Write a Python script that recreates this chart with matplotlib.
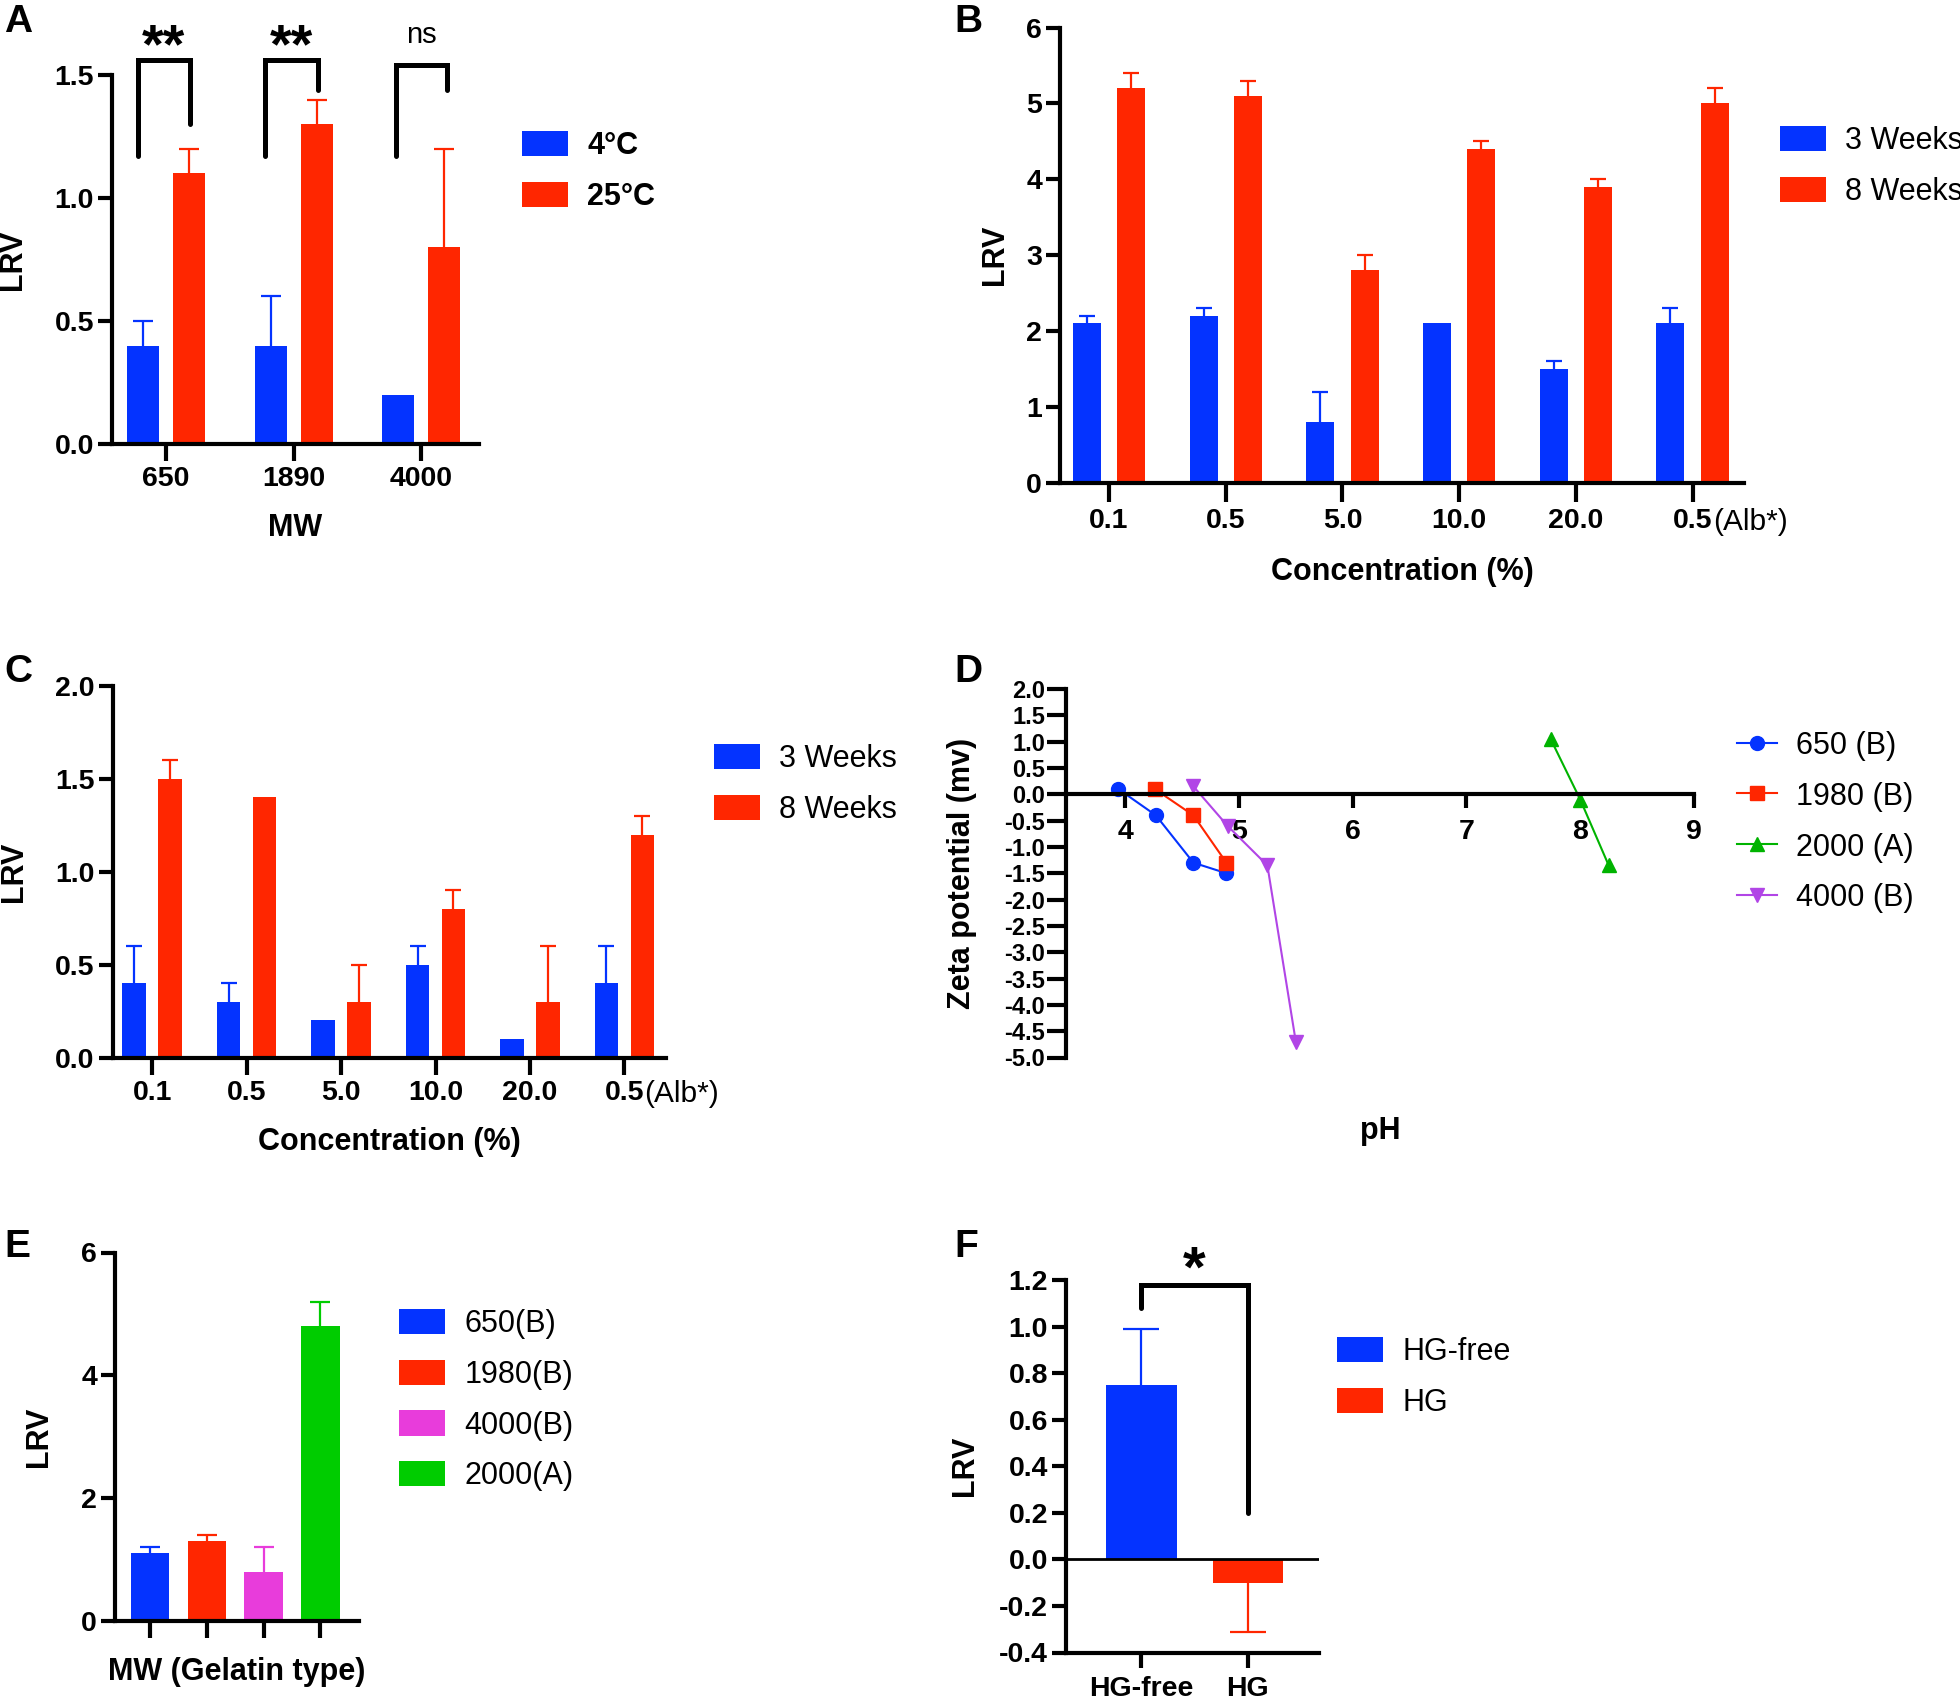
import matplotlib
matplotlib.use('Agg')
import matplotlib.pyplot as plt
import numpy as np
from matplotlib.transforms import offset_copy

plt.rcParams['font.family'] = ['Liberation Sans', 'DejaVu Sans']

BLUE = '#0433ff'
RED = '#ff2600'
MAGENTA = '#e83cdb'
GREEN = '#00cc00'
D_GREEN = '#00b300'
PURPLE = '#b145e6'

W, H = 1960, 1704

# ---- panel A data
mw_labels = ['650', '1890', '4000']
a_4c = [0.4, 0.4, 0.2]
a_4c_err = [0.1, 0.2, 0.0]
a_25c = [1.1, 1.3, 0.8]
a_25c_err = [0.1, 0.1, 0.4]
a_sig = ['**', '**', 'ns']
a_brk_left = [1.17, 1.17, 1.17]
a_brk_right = [1.30, 1.44, 1.44]
a_brk_top = [1.56, 1.56, 1.54]

# ---- panel B / C data
conc_labels = ['0.1', '0.5', '5.0', '10.0', '20.0', '0.5']
b_3w = [2.1, 2.2, 0.8, 2.1, 1.5, 2.1]
b_3w_err = [0.1, 0.1, 0.4, 0.0, 0.1, 0.2]
b_8w = [5.2, 5.1, 2.8, 4.4, 3.9, 5.0]
b_8w_err = [0.2, 0.2, 0.2, 0.1, 0.1, 0.2]

c_3w = [0.4, 0.3, 0.2, 0.5, 0.1, 0.4]
c_3w_err = [0.2, 0.1, 0.0, 0.1, 0.0, 0.2]
c_8w = [1.5, 1.4, 0.3, 0.8, 0.3, 1.2]
c_8w_err = [0.1, 0.0, 0.2, 0.1, 0.3, 0.1]

# ---- panel D data (zeta potential vs pH)
ph_650 = [3.94, 4.27, 4.6, 4.89]
z_650 = [0.1, -0.4, -1.3, -1.5]
ph_1980 = [4.26, 4.6, 4.89]
z_1980 = [0.1, -0.4, -1.3]
ph_2000 = [7.74, 8.0, 8.25]
z_2000 = [1.05, -0.1, -1.35]
ph_4000 = [4.6, 4.9, 5.25, 5.5]
z_4000 = [0.15, -0.6, -1.35, -4.7]

# ---- panel E data
e_labels = ['650(B)', '1980(B)', '4000(B)', '2000(A)']
e_vals = [1.1, 1.3, 0.8, 4.8]
e_err = [0.1, 0.1, 0.4, 0.4]
e_colors = [BLUE, RED, MAGENTA, GREEN]

# ---- panel F data
f_labels = ['HG-free', 'HG']
f_vals = [0.75, -0.1]
f_err = [0.24, 0.21]


def px_axes(left, top, right, bottom):
    return fig.add_axes([left / W, 1 - bottom / H, (right - left) / W, (bottom - top) / H])


def style(ax, xlen=12, xpad=4, lw=3.0):
    for side in ['top', 'right']:
        ax.spines[side].set_visible(False)
    for side in ['left', 'bottom']:
        ax.spines[side].set_linewidth(lw)
    ax.tick_params(width=lw, labelsize=20.5)
    ax.tick_params(axis='y', length=10, pad=3)
    ax.tick_params(axis='x', length=xlen, pad=xpad)


# one-sided error bars, drawn behind the bars so only the outer half shows
def errors(ax, x, y, err, color, cap, down=False):
    for xi, yi, ei in zip(x, y, err):
        if ei <= 0:
            continue
        end = yi - ei if down else yi + ei
        ax.plot([xi, xi], [yi, end], color=color, lw=1.6, zorder=1, solid_capstyle='butt')
        ax.plot([xi], [end], marker='_', markersize=2 * cap, mew=1.6, color=color, zorder=1)


def bracket(ax, x1, x2, y1, y2, top, text, ty, size, weight):
    ax.plot([x1, x1, x2, x2], [y1, top, top, y2], color='black', lw=3.6,
            clip_on=False, solid_capstyle='round', solid_joinstyle='miter')
    ax.text((x1 + x2) / 2, ty, text, ha='center', va='baseline', fontsize=size,
            fontweight=weight, clip_on=False)


def legend(ax, handles, labels, x, y, weight='normal', hl=1.5, hh=0.9):
    ax.legend(handles, labels, loc='upper left', bbox_to_anchor=(x / W, 1 - y / H),
              bbox_transform=fig.transFigure, frameon=False, borderpad=0,
              borderaxespad=0, handlelength=hl, handleheight=hh, handletextpad=0.64,
              labelspacing=0.67, prop={'size': 22, 'weight': weight})


def alb_suffix(ax, drop):
    tr = offset_copy(ax.get_xaxis_transform(), fig=fig, x=14.5, y=-drop, units='points')
    ax.text(5, 0, '(Alb*)', transform=tr, ha='left', va='top', fontsize=21.5)


fig = plt.figure(figsize=(W / 100, H / 100), dpi=100)

# ================= A
ax = px_axes(112, 75, 479, 444)
x = np.arange(len(mw_labels))
b1 = ax.bar(x - 0.18, a_4c, 0.25, color=BLUE, zorder=2)
b2 = ax.bar(x + 0.18, a_25c, 0.25, color=RED, zorder=2)
errors(ax, x - 0.18, a_4c, a_4c_err, BLUE, 7)
errors(ax, x + 0.18, a_25c, a_25c_err, RED, 7)
for i, s in enumerate(a_sig):
    if s == 'ns':
        bracket(ax, i - 0.2, i + 0.2, a_brk_left[i], a_brk_right[i], a_brk_top[i], s, 1.63, 21, 'normal')
    else:
        bracket(ax, i - 0.22, i + 0.19, a_brk_left[i], a_brk_right[i], a_brk_top[i], s, 1.55, 40, 'bold')
ax.set_xlim(-0.42, 2.45)
ax.set_ylim(0, 1.5)
ax.set_yticks([0, 0.5, 1.0, 1.5], ['0.0', '0.5', '1.0', '1.5'])
ax.set_xticks(x, mw_labels)
ax.set_ylabel('LRV', fontsize=22, fontweight='bold')
ax.set_xlabel('MW', fontsize=22, fontweight='bold')
ax.yaxis.set_label_coords(-0.23, 0.5)
ax.xaxis.set_label_coords(0.5, -0.187)
style(ax)
legend(ax, [b1, b2], ['4°C', '25°C'], 522, 131, weight='bold')

# ================= B
ax = px_axes(1060, 27.5, 1744, 482.5)
x = np.arange(len(conc_labels))
b1 = ax.bar(x - 0.19, b_3w, 0.24, color=BLUE, zorder=2)
b2 = ax.bar(x + 0.19, b_8w, 0.24, color=RED, zorder=2)
errors(ax, x - 0.19, b_3w, b_3w_err, BLUE, 6)
errors(ax, x + 0.19, b_8w, b_8w_err, RED, 6)
ax.set_xlim(-0.42, 5.44)
ax.set_ylim(0, 6)
ax.set_yticks(range(7), [str(v) for v in range(7)])
ax.set_xticks(x, conc_labels)
ax.set_ylabel('LRV', fontsize=22, fontweight='bold')
ax.set_xlabel('Concentration (%)', fontsize=22, fontweight='bold')
ax.yaxis.set_label_coords(-0.073, 0.5)
ax.xaxis.set_label_coords(0.5, -0.163)
style(ax, xlen=14, xpad=4)
alb_suffix(ax, 18)
legend(ax, [b1, b2], ['3 Weeks', '8 Weeks'], 1780, 126)

# ================= C
ax = px_axes(112.5, 686, 666, 1057.5)
b1 = ax.bar(x - 0.19, c_3w, 0.25, color=BLUE, zorder=2)
b2 = ax.bar(x + 0.19, c_8w, 0.25, color=RED, zorder=2)
errors(ax, x - 0.19, c_3w, c_3w_err, BLUE, 6)
errors(ax, x + 0.19, c_8w, c_8w_err, RED, 6)
ax.set_xlim(-0.42, 5.44)
ax.set_ylim(0, 2)
ax.set_yticks([0, 0.5, 1.0, 1.5, 2.0], ['0.0', '0.5', '1.0', '1.5', '2.0'])
ax.set_xticks(x, conc_labels)
ax.set_ylabel('LRV', fontsize=22, fontweight='bold')
ax.set_xlabel('Concentration (%)', fontsize=22, fontweight='bold')
ax.yaxis.set_label_coords(-0.151, 0.5)
ax.xaxis.set_label_coords(0.5, -0.186)
style(ax)
alb_suffix(ax, 16)
legend(ax, [b1, b2], ['3 Weeks', '8 Weeks'], 714, 744)

# ================= D
ax = px_axes(1066, 689, 1694, 1057.5)
kw = dict(lw=1.5, markersize=10)
l1, = ax.plot(ph_650, z_650, '-o', color=BLUE, **kw)
l2, = ax.plot(ph_1980, z_1980, '-s', color=RED, **kw)
l3, = ax.plot(ph_2000, z_2000, '-^', color=D_GREEN, **kw)
l4, = ax.plot(ph_4000, z_4000, '-v', color=PURPLE, **kw)
for ln in (l1, l2, l3, l4):
    ln.set_clip_on(False)
ax.set_xlim(3.48, 9)
ax.set_ylim(-5, 2)
ax.spines['bottom'].set_position(('data', 0))
yt = np.arange(-5, 2.01, 0.5)
ax.set_yticks(yt, ['%.1f' % v for v in yt])
ax.set_xticks(range(4, 10), [str(v) for v in range(4, 10)])
ax.set_ylabel('Zeta potential (mv)', fontsize=22, fontweight='bold')
ax.set_xlabel('pH', fontsize=22, fontweight='bold')
ax.yaxis.set_label_coords(-0.141, 0.5)
ax.xaxis.set_label_coords(0.5, -0.16)
style(ax, xlen=10, xpad=8)
ax.tick_params(axis='y', labelsize=17, length=14, pad=1)
legend(ax, [l1, l2, l3, l4], ['650 (B)', '1980 (B)', '2000 (A)', '4000 (B)'],
       1737, 731, hl=1.3)

# ================= E
ax = px_axes(115, 1252.5, 359, 1621)
x = np.arange(len(e_vals))
bars = ax.bar(x, e_vals, 0.68, color=e_colors, zorder=2)
for i in range(len(e_vals)):
    errors(ax, [x[i]], [e_vals[i]], [e_err[i]], e_colors[i], 7.5)
ax.set_xlim(-0.62, 3.68)
ax.set_ylim(0, 6)
ax.set_yticks([0, 2, 4, 6], ['0', '2', '4', '6'])
ax.set_xticks(x, [''] * len(x))
ax.set_ylabel('LRV', fontsize=22, fontweight='bold')
ax.set_xlabel('MW (Gelatin type)', fontsize=22, fontweight='bold')
ax.yaxis.set_label_coords(-0.25, 0.5)
ax.xaxis.set_label_coords(0.5, -0.098)
style(ax)
legend(ax, list(bars), e_labels, 399, 1309)

# ================= F
ax = px_axes(1066, 1280, 1319, 1652.5)
x = np.arange(len(f_vals))
bars = ax.bar(x, f_vals, 0.66, color=[BLUE, RED], zorder=2)
errors(ax, [x[0]], [f_vals[0]], [f_err[0]], BLUE, 13)
errors(ax, [x[1]], [f_vals[1]], [f_err[1]], RED, 13, down=True)
ax.axhline(0, color='black', lw=2.0, zorder=3)
bracket(ax, 0, 1, 1.08, 0.2, 1.18, '*', 1.17, 42, 'bold')
ax.set_xlim(-0.71, 1.67)
ax.set_ylim(-0.4, 1.2)
yt = np.arange(-0.4, 1.21, 0.2)
ax.set_yticks(yt, ['%.1f' % v for v in yt])
ax.set_xticks(x, f_labels)
ax.set_ylabel('LRV', fontsize=22, fontweight='bold')
ax.yaxis.set_label_coords(-0.34, 0.5)
style(ax, xlen=11, xpad=6)
legend(ax, list(bars), f_labels, 1337, 1337)

# bold tick labels everywhere
for a in fig.axes:
    for lab in a.get_xticklabels() + a.get_yticklabels():
        lab.set_fontweight('bold')

# panel letters
for letter, px, py in [('A', 4, 4), ('B', 954, 4), ('C', 4, 654),
                       ('D', 954, 654), ('E', 4, 1229), ('F', 954, 1229)]:
    fig.text(px / W, 1 - py / H, letter, ha='left', va='top', fontsize=28, fontweight='bold')

fig.savefig('out.png', dpi=100)
